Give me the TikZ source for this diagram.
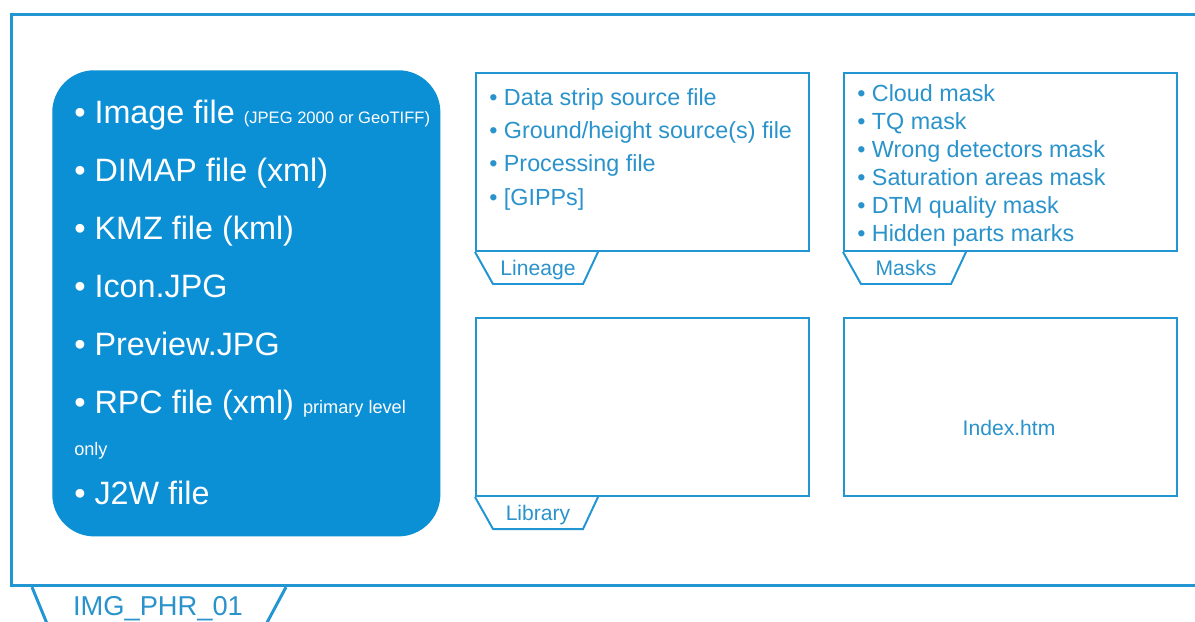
\documentclass[tikz,border=0pt]{standalone}
\usepackage{fontspec}
\setmainfont{Liberation Sans}
\usetikzlibrary{positioning}

\definecolor{phrblue}{HTML}{0B8FD5}
\definecolor{phrline}{HTML}{2196D2}
\definecolor{phrtext}{HTML}{2A93CB}
\newcommand{\jpegsize}{\fontsize{11.8}{13}\selectfont}
\newcommand{\notesize}{\fontsize{12.9}{14}\selectfont}

\begin{document}
\begin{tikzpicture}[x=0.025cm, y=-0.025cm,
    frame/.style={draw=phrline, line width=2.1pt, anchor=north west, inner sep=0pt},
    panel/.style={draw=phrline, line width=1.4pt, anchor=north west, inner sep=0pt,
        minimum width=8.325cm, minimum height=4.45cm},
    tabline/.style={draw=phrline, line width=1.4pt},
    tablabel/.style={text=phrtext, anchor=base, inner sep=0pt, font=\fontsize{15}{18}\selectfont},
    listtext/.style={text=phrtext, anchor=north west, align=left, inner sep=0pt}]
    \useasboundingbox (0,0) rectangle (1195,622);
    \fill[white] (0,0) rectangle (1195,622);
    \clip (0,0) rectangle (1195,622);

    % outer product frame
    \node[frame, minimum width=30.5cm, minimum height=14.275cm] (img) at (10,13) {};
    \draw[frame] (img.south west) ++(22,0) -- ++(23,56);
    \draw[frame] (img.south west) ++(276,0) -- ++(-30,56);
    \path (img.south west) ++(148,28) node[tablabel, font=\fontsize{19.4}{22}\selectfont] (imglbl) {IMG\_PHR\_01};

    % main files
    \node[fill=phrblue, rounded corners=1.05cm, anchor=north west, inner sep=0pt,
        minimum width=9.7cm, minimum height=11.65cm] (files) at (52,70) {};
    \node[listtext, text=white, font=\fontsize{23}{41.3}\selectfont] (filelist) at (74,99.5) {%
        • Image file {\jpegsize (JPEG 2000 or GeoTIFF)}\\
        • DIMAP file (xml)\\
        • KMZ file (kml)\\
        • Icon.JPG\\
        • Preview.JPG\\
        • RPC file (xml) {\notesize primary level}\\[-11.4pt]
        {\notesize only}\\[-6.4pt]
        • J2W file};

    % sub folders
    \node[panel] (lineage) at (475,72) {};
    \node[panel] (masks) at (843,72) {};
    \node[panel] (library) at (475,317) {};
    \node[panel] (index) at (843,317) {};

    \foreach \sub/\name in {lineage/Lineage, masks/Masks, library/Library} {
        \draw[tabline] (\sub.south west) -- ++(18,32) -- ++(90,0) -- ++(15,-32);
        \path (\sub.south west) ++(63,23) node[tablabel] (\sub lbl) {\name};
    }

    \node[listtext, font=\fontsize{16.6}{23.7}\selectfont] (lineagelist) at (489,88) {%
        • Data strip source file\\
        • Ground/height source(s) file\\
        • Processing file\\
        • [GIPPs]};
    \node[listtext, font=\fontsize{16.6}{19.9}\selectfont] (maskslist) at (857,84.5) {%
        • Cloud mask\\
        • TQ mask\\
        • Wrong detectors mask\\
        • Saturation areas mask\\
        • DTM quality mask\\
        • Hidden parts marks};
    \path (index.south west) ++(166,-62) node[tablabel] (indexname) {Index.htm};
\end{tikzpicture}
\end{document}
